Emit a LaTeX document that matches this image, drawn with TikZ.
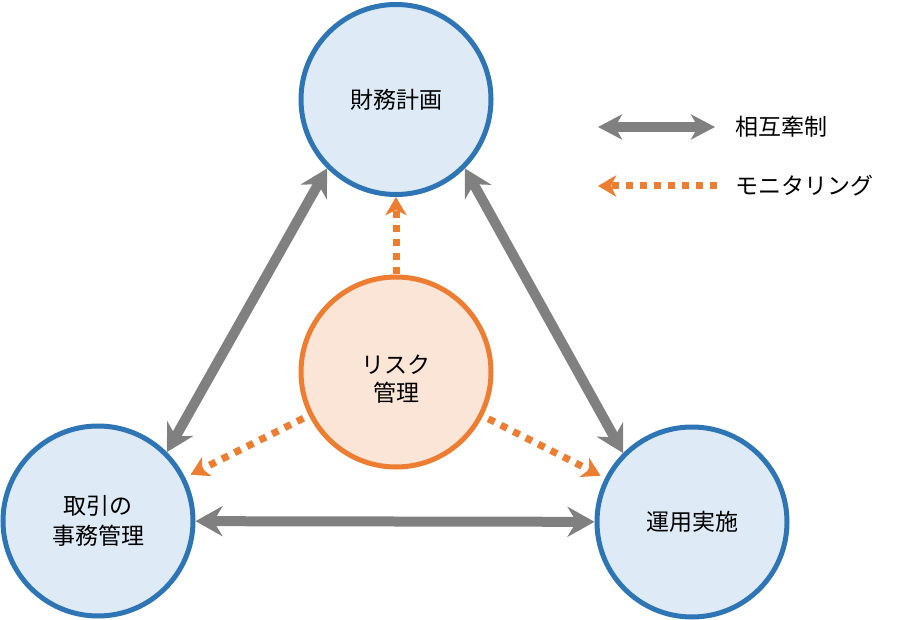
\documentclass[tikz,border=0pt]{standalone}
\usepackage{fontspec}
\setmainfont{Noto Sans CJK JP}
\usetikzlibrary{arrows.meta}
\definecolor{cblue}{HTML}{2E75B6}
\definecolor{cbluefill}{HTML}{DEEBF7}
\definecolor{corange}{HTML}{ED7D31}
\definecolor{corangefill}{HTML}{FBE5D6}
\definecolor{cgray}{HTML}{808080}
\tikzset{
  bluecirc/.style={circle, draw=cblue, fill=cbluefill, line width=5pt, minimum size=190pt, inner sep=0pt, align=center, font=\fontsize{23}{30}\selectfont},
  orcirc/.style={circle, draw=corange, fill=corangefill, line width=5pt, minimum size=190pt, inner sep=0pt},
  ortext/.style={align=center, inner sep=0pt, font=\fontsize{23}{28}\selectfont},
  mutual/.style={draw=cgray, line width=10pt, {Stealth[length=27pt,width=30pt,inset=9pt]}-{Stealth[length=27pt,width=30pt,inset=9pt]}},
  legmutual/.style={draw=cgray, line width=10pt, {Stealth[length=24pt,width=25pt,inset=7pt]}-{Stealth[length=24pt,width=25pt,inset=7pt]}},
  monitor/.style={draw=corange, line width=7pt, dash pattern=on 7pt off 7pt, -{Stealth[length=18pt,width=21pt,inset=5pt]}},
  legtext/.style={anchor=west, inner sep=0pt, font=\fontsize{23}{26}\selectfont}
}
\begin{document}
\begin{tikzpicture}[x=1pt,y=-1pt]
\useasboundingbox (0,0) rectangle (897,620);
\node[bluecirc] (fin) at (396,99.5) {財務計画};
\node[bluecirc] (trade) at (98,521) {取引の\\事務管理};
\node[bluecirc] (ops) at (692,522) {運用実施};
\node[orcirc] (risk) at (396,372) {};
\node[ortext] (risktxt) at (396,379) {リスク\\管理};
\draw[mutual] (fin.225) -- (trade.45);
\draw[mutual] (fin.315) -- (ops.135);
\draw[mutual] (trade) -- (ops);
\draw[monitor] (risk) -- (fin);
\draw[monitor, shorten <=6pt, shorten >=6pt] (risk) -- (trade);
\draw[monitor, shorten <=6pt, shorten >=5pt] (risk) -- (ops);
\coordinate (m1) at (598,127);
\coordinate (m2) at (715,127);
\draw[legmutual] (m1) -- (m2);
\node[legtext] (lm) at (735,127) {相互牽制};
\coordinate (o1) at (717,186);
\coordinate (o2) at (598,186);
\draw[monitor] (o1) -- (o2);
\node[legtext] (lo) at (735,186) {モニタリング};
\end{tikzpicture}
\end{document}
